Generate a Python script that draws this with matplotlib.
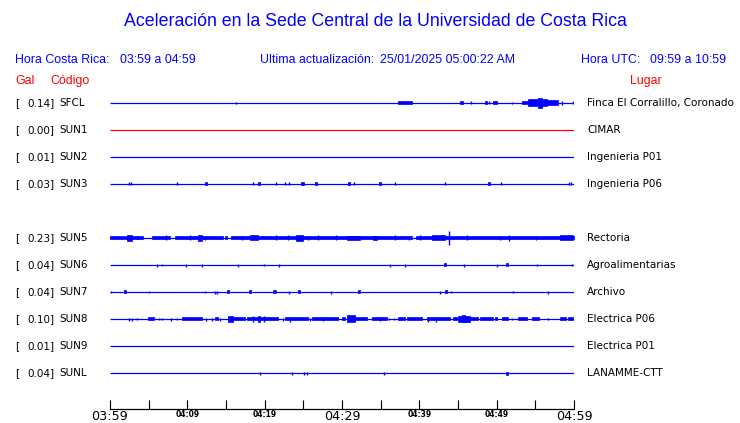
import matplotlib
matplotlib.use("Agg")
import matplotlib.pyplot as plt

# ---------------- data ----------------
title = "Aceleración en la Sede Central de la Universidad de Costa Rica"
hora_cr = "03:59 a 04:59"
hora_utc = "09:59 a 10:59"
actualizacion = "25/01/2025 05:00:22 AM"

codes = ["SFCL", "SUN1", "SUN2", "SUN3", "SUN5", "SUN6", "SUN7", "SUN8", "SUN9", "SUNL"]
gal = [0.14, 0.00, 0.01, 0.03, 0.23, 0.04, 0.04, 0.10, 0.01, 0.04]
places = ["Finca El Corralillo, Coronado", "CIMAR", "Ingenieria P01", "Ingenieria P06",
          "Rectoria", "Agroalimentarias", "Archivo", "Electrica P06", "Electrica P01", "LANAMME-CTT"]
slots = [0, 1, 2, 3, 5, 6, 7, 8, 9, 10]
colors = ["blue", "red", "blue", "blue", "blue", "blue", "blue", "blue", "blue", "blue"]

tick_minutes = list(range(0, 61, 5))
tick_labels = ["03:59", "", "04:09", "", "04:19", "", "04:29", "", "04:39", "", "04:49", "", "04:59"]

# events: (start minute after 03:59, end minute, half amplitude)
ev_SFCL = [(16.29, 16.29, 1.0), (37.24, 39.05, 1.5), (45.26, 45.65, 1.5), (46.68, 46.68, 1.5),
           (48.49, 48.75, 1.5), (49.01, 49.01, 1.5), (49.53, 50.04, 1.5), (51.99, 51.99, 1.0),
           (53.28, 54.05, 1.5), (54.05, 55.35, 3.5), (55.35, 55.87, 5.0), (55.87, 56.5, 3.5),
           (56.5, 57.9, 2.5), (58.45, 58.45, 2.0), (59.88, 59.88, 1.5)]
ev_SUN1 = []
ev_SUN2 = []
ev_SUN3 = [(2.46, 2.46, 1.5), (2.72, 2.72, 1.5), (8.66, 8.66, 1.5), (12.29, 12.55, 1.5),
           (18.49, 18.49, 1.5), (19.14, 19.4, 1.5), (21.47, 21.47, 1.5), (22.63, 22.63, 1.5),
           (23.15, 23.15, 1.5), (24.7, 25.09, 1.5), (26.51, 26.77, 1.5), (30.78, 31.04, 1.5),
           (31.55, 31.55, 1.5), (34.79, 35.05, 1.5), (36.85, 36.85, 1.5), (43.32, 43.32, 1.5),
           (48.88, 49.14, 1.5), (50.56, 50.56, 1.5), (59.36, 59.36, 1.5), (59.62, 59.62, 1.5)]
ev_SUN5 = [(0.0, 4.27, 1.5), (5.43, 7.76, 1.5), (8.41, 14.61, 1.5), (15.65, 39.05, 1.5),
           (39.57, 60.0, 1.5), (3.49, 3.62, 1.5), (14.9, 15.1, 1.5),
           (2.2, 2.84, 3.0), (7.24, 7.24, 2.5), (10.35, 10.35, 2.5), (11.38, 11.9, 3.0),
           (12.29, 12.29, 2.0), (17.07, 17.07, 2.0), (18.1, 19.14, 2.5), (21.47, 21.47, 2.5),
           (23.02, 23.02, 2.5), (24.05, 24.96, 3.0), (25.6, 25.6, 2.0), (26.9, 26.9, 2.5),
           (29.23, 29.23, 2.5), (30.65, 32.33, 2.0), (34.01, 34.53, 2.0), (36.85, 36.85, 2.5),
           (38.67, 38.67, 2.0), (40.09, 40.09, 2.5), (41.64, 43.32, 2.5), (43.84, 43.84, 7.0),
           (46.17, 46.17, 2.5), (50.43, 50.43, 2.0), (51.6, 51.6, 3.0), (55.09, 55.09, 2.0),
           (58.19, 59.88, 2.5)]
ev_SUN6 = [(6.08, 6.08, 1.5), (6.72, 6.72, 1.0), (9.83, 9.83, 1.5), (11.9, 11.9, 1.5),
           (16.55, 16.55, 1.5), (19.91, 19.91, 1.0), (21.85, 21.85, 1.5), (36.21, 36.21, 1.5),
           (38.15, 38.15, 1.5), (43.19, 43.45, 1.5), (45.78, 45.78, 1.5), (50.04, 50.04, 1.5),
           (51.21, 51.47, 1.5), (55.22, 55.22, 1.0), (59.75, 59.75, 1.0)]
ev_SUN7 = [(0.13, 0.13, 1.0), (1.81, 2.07, 1.5), (5.04, 5.04, 1.0), (12.29, 12.29, 1.0),
           (13.58, 13.58, 1.5), (13.84, 13.84, 1.5), (15.13, 15.39, 1.5), (17.97, 18.23, 1.5),
           (21.08, 21.47, 1.5), (23.15, 23.15, 1.5), (24.31, 24.57, 1.5), (28.58, 28.58, 1.5),
           (32.07, 32.33, 1.5), (42.67, 42.67, 1.5), (43.32, 43.58, 1.5), (44.1, 44.1, 1.0),
           (52.11, 52.11, 1.0), (56.64, 56.64, 1.5)]
ev_SUN8 = [(2.46, 2.46, 1.5), (2.84, 2.84, 1.5), (3.49, 3.49, 1.0), (4.91, 5.69, 1.5),
           (6.34, 6.34, 1.0), (6.72, 6.72, 1.0), (7.89, 7.89, 1.5), (8.66, 8.66, 1.0),
           (9.31, 11.9, 1.5), (12.41, 12.41, 1.5), (13.19, 13.19, 1.5), (13.58, 13.97, 1.5),
           (14.22, 14.22, 1.5), (15.26, 15.91, 2.5), (15.91, 17.46, 1.5), (17.72, 20.04, 1.5),
           (18.49, 18.49, 3.0), (19.14, 19.4, 3.0), (19.91, 19.91, 3.0), (20.04, 21.73, 1.5),
           (22.37, 22.37, 1.5), (22.63, 25.6, 1.5), (23.28, 23.28, 2.5), (25.86, 25.86, 1.5),
           (26.12, 29.48, 1.5), (27.54, 27.54, 2.0), (30.0, 30.39, 1.5), (30.65, 31.68, 3.5),
           (31.68, 33.23, 1.5), (33.88, 35.82, 1.5), (34.92, 34.92, 2.0), (36.08, 36.08, 1.0),
           (36.73, 36.73, 1.0), (37.24, 38.15, 1.5), (38.41, 40.35, 1.5), (40.99, 43.97, 1.5),
           (41.13, 41.13, 2.5), (42.15, 42.15, 2.5), (44.35, 44.87, 1.5), (45.0, 46.55, 2.5),
           (45.52, 45.91, 3.5), (46.55, 47.59, 1.5), (47.85, 49.53, 1.5), (49.79, 50.04, 1.5),
           (50.69, 51.47, 1.5), (51.99, 51.99, 1.0), (52.76, 53.93, 1.5), (54.57, 55.48, 1.5),
           (56.64, 56.64, 1.0), (58.19, 58.97, 1.5), (59.23, 59.88, 1.5)]
ev_SUN9 = []
ev_SUNL = [(19.4, 19.4, 1.5), (23.54, 23.54, 1.5), (25.09, 25.09, 1.5), (25.48, 25.48, 1.5),
           (35.43, 35.43, 1.5), (51.21, 51.47, 1.5)]
events = [ev_SFCL, ev_SUN1, ev_SUN2, ev_SUN3, ev_SUN5, ev_SUN6, ev_SUN7, ev_SUN8, ev_SUN9, ev_SUNL]

# ---------------- figure ----------------
W, H = 740, 423
fig = plt.figure(figsize=(W / 100, H / 100), dpi=100)
fig.patch.set_facecolor("white")

def fx(x):
    return x / W

def fy(y):
    return 1 - y / H

SANS = "Liberation Sans"
TRACE_FONT = "DejaVu Sans"
BLUE = "#0000ff"
RED = "#ff0000"

ax = fig.add_axes([fx(110), fy(409), 464 / W, 319 / H])
slot_px = 27.0
ax.set_xlim(0, 60)
ax.set_ylim((409 - 103) / slot_px, (90 - 103) / slot_px)
amp_scale = 1.0 / slot_px

for code, slot, col, evs in zip(codes, slots, colors, events):
    ax.plot([0, 60], [slot, slot], color=col, lw=0.9, solid_capstyle="butt")
    for s, e, a in evs:
        if e - s < 0.12:
            ax.vlines(s, slot - a * amp_scale, slot + a * amp_scale, color=col, lw=1.0)
        else:
            ax.fill_between([s, e], slot - a * amp_scale, slot + a * amp_scale,
                            color=col, lw=0.5, edgecolor=col)

for sp in ["top", "right", "left"]:
    ax.spines[sp].set_visible(False)
ax.spines["bottom"].set_linewidth(0.9)
ax.set_yticks([])
ax.set_xticks(tick_minutes)
ax.set_xticklabels(tick_labels)
ax.tick_params(axis="x", direction="in", length=6.5, width=0.8, pad=0.5, colors="black")
for lab, txt in zip(ax.get_xticklabels(), tick_labels):
    if txt in ("03:59", "04:29", "04:59"):
        lab.set_fontsize(9.2)
        lab.set_family(TRACE_FONT)
    else:
        lab.set_fontsize(5.5)
        lab.set_fontweight("bold")
        lab.set_family(TRACE_FONT)

# ---------------- texts ----------------
fig.text(fx(375), fy(22), title, color=BLUE, fontsize=12.8, family=SANS, ha="center", va="center")
hdr = 8.9
fig.text(fx(15), fy(60), "Hora Costa Rica:", color=BLUE, fontsize=hdr, family=SANS, va="center")
fig.text(fx(120), fy(60), hora_cr, color=BLUE, fontsize=hdr, family=SANS, va="center")
fig.text(fx(260), fy(60), "Ultima actualización:", color=BLUE, fontsize=hdr, family=SANS, va="center")
fig.text(fx(380), fy(60), actualizacion, color=BLUE, fontsize=hdr, family=SANS, va="center")
fig.text(fx(581), fy(60), "Hora UTC:", color=BLUE, fontsize=hdr, family=SANS, va="center")
fig.text(fx(650), fy(60), hora_utc, color=BLUE, fontsize=hdr, family=SANS, va="center")
fig.text(fx(15), fy(81), "Gal", color=RED, fontsize=hdr, family=SANS, va="center")
fig.text(fx(50), fy(81), "Código", color=RED, fontsize=hdr, family=SANS, va="center")
fig.text(fx(630), fy(81), "Lugar", color=RED, fontsize=hdr, family=SANS, va="center")

lab_fs = 7.5
for code, g, place, slot in zip(codes, gal, places, slots):
    y = 103 + slot_px * slot
    fig.text(fx(15), fy(y), "[", fontsize=lab_fs, family=TRACE_FONT, va="center", color="black")
    fig.text(fx(54.5), fy(y), f"{g:.2f}]", fontsize=lab_fs, family=TRACE_FONT, va="center",
             ha="right", color="black")
    fig.text(fx(59), fy(y), code, fontsize=lab_fs, family=TRACE_FONT, va="center", color="black")
    fig.text(fx(587), fy(y), place, fontsize=lab_fs, family=TRACE_FONT, va="center", color="black")

fig.savefig("out.png", dpi=100, facecolor="white")
